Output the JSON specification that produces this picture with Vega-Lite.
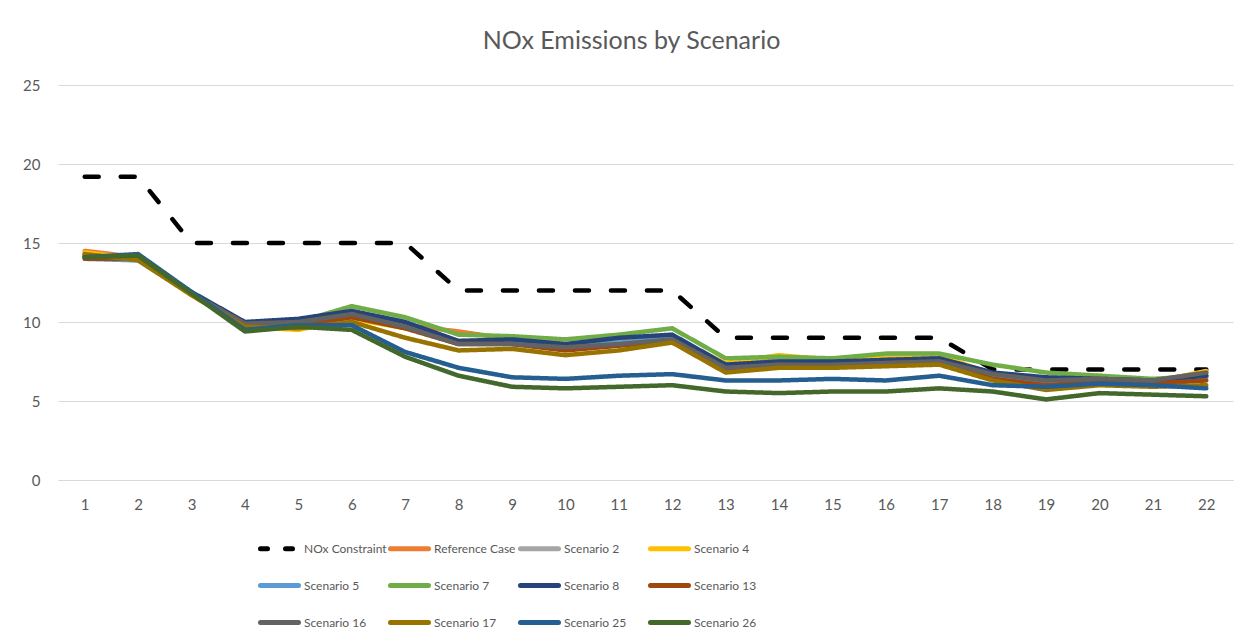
{
  "$schema": "https://vega.github.io/schema/vega-lite/v6.json",
  "width": 1175,
  "height": 395,
  "autosize": "none",
  "padding": {"left": 58, "top": 85, "right": 19, "bottom": 163},
  "background": "white",
  "title": {
    "text": "NOx Emissions  by Scenario",
    "font": "Lato",
    "fontSize": 25,
    "fontWeight": "normal",
    "color": "#595959",
    "offset": 24,
    "dx": -14
  },
  "data": {
    "values": [
      {"x": 1, "NOx Constraint": 19.2, "Reference Case": 14.5, "Scenario 2": 14.3, "Scenario 4": 14.4, "Scenario 5": 14.0, "Scenario 7": 14.2, "Scenario 8": 14.1, "Scenario 13": 14.0, "Scenario 16": 14.2, "Scenario 17": 14.3, "Scenario 25": 14.1, "Scenario 26": 14.1},
      {"x": 2, "NOx Constraint": 19.2, "Reference Case": 14.1, "Scenario 2": 14.0, "Scenario 4": 14.0, "Scenario 5": 13.9, "Scenario 7": 14.0, "Scenario 8": 14.1, "Scenario 13": 14.0, "Scenario 16": 14.1, "Scenario 17": 13.9, "Scenario 25": 14.3, "Scenario 26": 14.2},
      {"x": 3, "NOx Constraint": 15, "Reference Case": 11.8, "Scenario 2": 11.8, "Scenario 4": 11.7, "Scenario 5": 11.8, "Scenario 7": 11.8, "Scenario 8": 11.9, "Scenario 13": 11.8, "Scenario 16": 11.8, "Scenario 17": 11.7, "Scenario 25": 11.9, "Scenario 26": 11.8},
      {"x": 4, "NOx Constraint": 15, "Reference Case": 9.8, "Scenario 2": 9.8, "Scenario 4": 9.7, "Scenario 5": 9.8, "Scenario 7": 9.8, "Scenario 8": 10.0, "Scenario 13": 9.8, "Scenario 16": 9.9, "Scenario 17": 9.7, "Scenario 25": 9.5, "Scenario 26": 9.4},
      {"x": 5, "NOx Constraint": 15, "Reference Case": 9.9, "Scenario 2": 9.8, "Scenario 4": 9.5, "Scenario 5": 9.8, "Scenario 7": 10.0, "Scenario 8": 10.2, "Scenario 13": 9.8, "Scenario 16": 10.0, "Scenario 17": 9.6, "Scenario 25": 9.8, "Scenario 26": 9.7},
      {"x": 6, "NOx Constraint": 15, "Reference Case": 10.3, "Scenario 2": 10.4, "Scenario 4": 10.2, "Scenario 5": 10.3, "Scenario 7": 11.0, "Scenario 8": 10.7, "Scenario 13": 10.3, "Scenario 16": 10.5, "Scenario 17": 10.0, "Scenario 25": 9.8, "Scenario 26": 9.5},
      {"x": 7, "NOx Constraint": 15, "Reference Case": 9.8, "Scenario 2": 9.8, "Scenario 4": 9.6, "Scenario 5": 9.7, "Scenario 7": 10.3, "Scenario 8": 10.0, "Scenario 13": 9.6, "Scenario 16": 9.7, "Scenario 17": 9.0, "Scenario 25": 8.1, "Scenario 26": 7.8},
      {"x": 8, "NOx Constraint": 12, "Reference Case": 9.4, "Scenario 2": 8.8, "Scenario 4": 8.8, "Scenario 5": 8.7, "Scenario 7": 9.2, "Scenario 8": 8.8, "Scenario 13": 8.6, "Scenario 16": 8.6, "Scenario 17": 8.2, "Scenario 25": 7.1, "Scenario 26": 6.6},
      {"x": 9, "NOx Constraint": 12, "Reference Case": 8.9, "Scenario 2": 8.8, "Scenario 4": 8.8, "Scenario 5": 8.7, "Scenario 7": 9.1, "Scenario 8": 8.9, "Scenario 13": 8.6, "Scenario 16": 8.6, "Scenario 17": 8.3, "Scenario 25": 6.5, "Scenario 26": 5.9},
      {"x": 10, "NOx Constraint": 12, "Reference Case": 8.6, "Scenario 2": 8.5, "Scenario 4": 8.5, "Scenario 5": 8.5, "Scenario 7": 8.9, "Scenario 8": 8.6, "Scenario 13": 8.2, "Scenario 16": 8.4, "Scenario 17": 7.9, "Scenario 25": 6.4, "Scenario 26": 5.8},
      {"x": 11, "NOx Constraint": 12, "Reference Case": 8.8, "Scenario 2": 8.7, "Scenario 4": 8.7, "Scenario 5": 8.7, "Scenario 7": 9.2, "Scenario 8": 9.0, "Scenario 13": 8.5, "Scenario 16": 8.6, "Scenario 17": 8.2, "Scenario 25": 6.6, "Scenario 26": 5.9},
      {"x": 12, "NOx Constraint": 12, "Reference Case": 9.1, "Scenario 2": 9.0, "Scenario 4": 9.0, "Scenario 5": 9.0, "Scenario 7": 9.6, "Scenario 8": 9.2, "Scenario 13": 8.8, "Scenario 16": 8.9, "Scenario 17": 8.7, "Scenario 25": 6.7, "Scenario 26": 6.0},
      {"x": 13, "NOx Constraint": 9, "Reference Case": 7.3, "Scenario 2": 7.3, "Scenario 4": 7.4, "Scenario 5": 7.3, "Scenario 7": 7.7, "Scenario 8": 7.3, "Scenario 13": 7.0, "Scenario 16": 7.1, "Scenario 17": 6.8, "Scenario 25": 6.3, "Scenario 26": 5.6},
      {"x": 14, "NOx Constraint": 9, "Reference Case": 7.6, "Scenario 2": 7.5, "Scenario 4": 7.9, "Scenario 5": 7.5, "Scenario 7": 7.8, "Scenario 8": 7.5, "Scenario 13": 7.3, "Scenario 16": 7.3, "Scenario 17": 7.1, "Scenario 25": 6.3, "Scenario 26": 5.5},
      {"x": 15, "NOx Constraint": 9, "Reference Case": 7.5, "Scenario 2": 7.4, "Scenario 4": 7.6, "Scenario 5": 7.4, "Scenario 7": 7.7, "Scenario 8": 7.5, "Scenario 13": 7.2, "Scenario 16": 7.3, "Scenario 17": 7.1, "Scenario 25": 6.4, "Scenario 26": 5.6},
      {"x": 16, "NOx Constraint": 9, "Reference Case": 7.7, "Scenario 2": 7.6, "Scenario 4": 7.9, "Scenario 5": 7.6, "Scenario 7": 8.0, "Scenario 8": 7.6, "Scenario 13": 7.4, "Scenario 16": 7.4, "Scenario 17": 7.2, "Scenario 25": 6.3, "Scenario 26": 5.6},
      {"x": 17, "NOx Constraint": 9, "Reference Case": 7.8, "Scenario 2": 7.6, "Scenario 4": 7.9, "Scenario 5": 7.7, "Scenario 7": 8.0, "Scenario 8": 7.7, "Scenario 13": 7.5, "Scenario 16": 7.5, "Scenario 17": 7.3, "Scenario 25": 6.6, "Scenario 26": 5.8},
      {"x": 18, "NOx Constraint": 7, "Reference Case": 6.6, "Scenario 2": 6.6, "Scenario 4": 6.7, "Scenario 5": 6.5, "Scenario 7": 7.3, "Scenario 8": 6.8, "Scenario 13": 6.4, "Scenario 16": 6.7, "Scenario 17": 6.3, "Scenario 25": 6.0, "Scenario 26": 5.6},
      {"x": 19, "NOx Constraint": 7, "Reference Case": 6.2, "Scenario 2": 6.3, "Scenario 4": 6.4, "Scenario 5": 6.2, "Scenario 7": 6.8, "Scenario 8": 6.5, "Scenario 13": 6.0, "Scenario 16": 6.3, "Scenario 17": 5.7, "Scenario 25": 5.9, "Scenario 26": 5.1},
      {"x": 20, "NOx Constraint": 7, "Reference Case": 6.5, "Scenario 2": 6.4, "Scenario 4": 6.6, "Scenario 5": 6.4, "Scenario 7": 6.6, "Scenario 8": 6.4, "Scenario 13": 6.2, "Scenario 16": 6.4, "Scenario 17": 6.0, "Scenario 25": 6.1, "Scenario 26": 5.5},
      {"x": 21, "NOx Constraint": 7, "Reference Case": 6.3, "Scenario 2": 6.3, "Scenario 4": 6.2, "Scenario 5": 6.2, "Scenario 7": 6.4, "Scenario 8": 6.3, "Scenario 13": 6.1, "Scenario 16": 6.3, "Scenario 17": 5.9, "Scenario 25": 6.0, "Scenario 26": 5.4},
      {"x": 22, "NOx Constraint": 7, "Reference Case": 6.8, "Scenario 2": 6.6, "Scenario 4": 6.9, "Scenario 5": 6.5, "Scenario 7": 6.6, "Scenario 8": 6.6, "Scenario 13": 6.3, "Scenario 16": 6.8, "Scenario 17": 6.0, "Scenario 25": 5.8, "Scenario 26": 5.3}
    ]
  },
  "transform": [
    {"fold": ["NOx Constraint", "Reference Case", "Scenario 2", "Scenario 4", "Scenario 5", "Scenario 7", "Scenario 8", "Scenario 13", "Scenario 16", "Scenario 17", "Scenario 25", "Scenario 26"], "as": ["series", "value"]}
  ],
  "mark": {"type": "line", "strokeWidth": 4.5, "strokeCap": "round", "strokeJoin": "round"},
  "encoding": {
    "x": {
      "field": "x", "type": "ordinal",
      "scale": {"type": "point", "padding": 0.5},
      "axis": {"title": null, "labelAngle": 0, "ticks": false, "grid": false, "domainColor": "#D9D9D9", "domainWidth": 1, "labelPadding": 17, "labelFont": "Lato", "labelFontSize": 15, "labelColor": "#595959"}
    },
    "y": {
      "field": "value", "type": "quantitative",
      "scale": {"domain": [0, 25]},
      "axis": {"title": null, "values": [0, 5, 10, 15, 20, 25], "ticks": false, "domain": false, "gridColor": "#D9D9D9", "gridWidth": 1, "labelPadding": 18, "labelFont": "Lato", "labelFontSize": 15, "labelColor": "#595959"}
    },
    "color": {
      "field": "series", "type": "nominal",
      "scale": {
        "domain": ["NOx Constraint", "Reference Case", "Scenario 2", "Scenario 4", "Scenario 5", "Scenario 7", "Scenario 8", "Scenario 13", "Scenario 16", "Scenario 17", "Scenario 25", "Scenario 26"],
        "range": ["#000000", "#ED7D31", "#A5A5A5", "#FFC000", "#5B9BD5", "#70AD47", "#264478", "#9E480E", "#636363", "#997300", "#255E91", "#43682B"]
      },
      "legend": {
        "title": null, "orient": "none", "legendX": 200, "legendY": 442, "direction": "horizontal",
        "columns": 4, "gridAlign": "all", "columnPadding": -7, "rowPadding": 5,
        "symbolType": "stroke", "symbolSize": 1444, "symbolStrokeWidth": 5,
        "labelFont": "Lato", "labelFontSize": 12, "labelColor": "#595959", "labelOffset": 3, "labelLimit": 200,
        "encode": {"symbols": {"update": {"strokeDash": {"signal": "datum.value === 'NOx Constraint' ? [7, 18] : [1, 0]"}, "strokeCap": {"value": "round"}}}}
      }
    },
    "strokeDash": {
      "condition": {"test": "datum.series === 'NOx Constraint'", "value": [14, 22]},
      "value": [1, 0]
    }
  },
  "config": {"view": {"stroke": null}}
}
